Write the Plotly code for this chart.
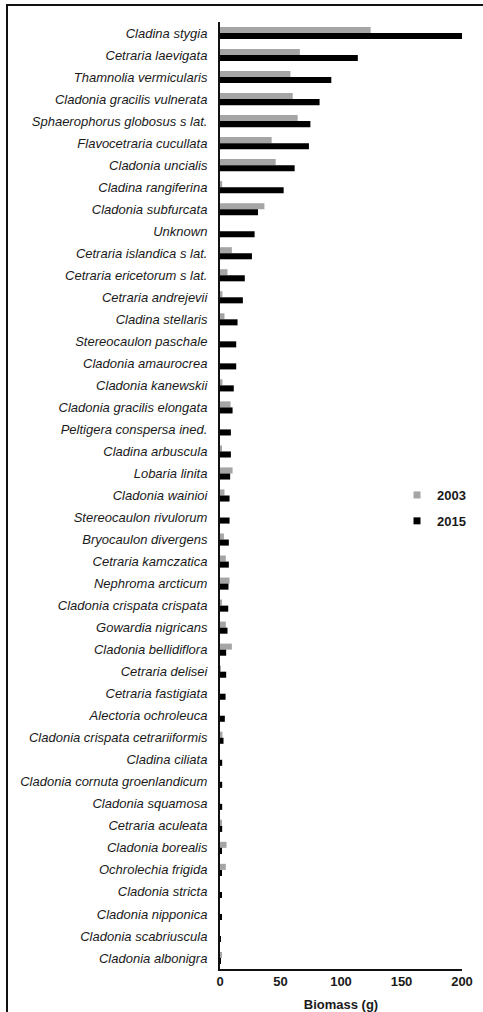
import plotly.graph_objects as go

species = [
    "Cladina stygia", "Cetraria laevigata", "Thamnolia vermicularis",
    "Cladonia gracilis vulnerata", "Sphaerophorus globosus s lat.",
    "Flavocetraria cucullata", "Cladonia uncialis", "Cladina rangiferina",
    "Cladonia subfurcata", "Unknown", "Cetraria islandica s lat.",
    "Cetraria ericetorum s lat.", "Cetraria andrejevii", "Cladina stellaris",
    "Stereocaulon paschale", "Cladonia amaurocrea", "Cladonia kanewskii",
    "Cladonia gracilis elongata", "Peltigera conspersa ined.",
    "Cladina arbuscula", "Lobaria linita", "Cladonia wainioi",
    "Stereocaulon rivulorum", "Bryocaulon divergens", "Cetraria kamczatica",
    "Nephroma arcticum", "Cladonia crispata crispata", "Gowardia nigricans",
    "Cladonia bellidiflora", "Cetraria delisei", "Cetraria fastigiata",
    "Alectoria ochroleuca", "Cladonia crispata cetrariiformis",
    "Cladina ciliata", "Cladonia cornuta groenlandicum", "Cladonia squamosa",
    "Cetraria aculeata", "Cladonia borealis", "Ochrolechia frigida",
    "Cladonia stricta", "Cladonia nipponica", "Cladonia scabriuscula",
    "Cladonia albonigra",
]

biomass_2003 = [
    124.5, 66.0, 58.2, 60.1, 64.2, 42.7, 46.0, 1.8, 36.7, 0.0, 9.8,
    6.2, 2.0, 3.7, 0.0, 0.0, 2.0, 8.7, 0.0, 1.5, 10.4, 3.7,
    0.0, 3.2, 4.8, 7.9, 1.0, 4.8, 9.8, 0.6, 0.0, 0.0, 2.0,
    0.0, 0.0, 0.0, 1.0, 5.4, 4.8, 0.0, 0.0, 0.0, 1.5,
]

biomass_2015 = [
    200.0, 113.9, 92.0, 82.3, 74.7, 73.5, 61.7, 52.6, 31.4, 28.6, 26.4,
    20.5, 18.9, 14.5, 13.4, 13.4, 11.4, 10.4, 9.0, 9.0, 8.4, 7.9,
    7.9, 7.3, 7.3, 7.0, 6.8, 6.2, 5.1, 5.1, 4.6, 4.0, 2.9,
    1.8, 1.8, 1.8, 1.8, 1.5, 1.2, 1.2, 1.0, 0.5, 0.3,
]

x_ticks = [0, 50, 100, 150, 200]
series_names = ["2003", "2015"]
series_colors = ["#A5A5A5", "#000000"]

FONT = "Arial, Liberation Sans, sans-serif"

fig = go.Figure()
for name, vals, col in zip(series_names, [biomass_2003, biomass_2015], series_colors):
    fig.add_trace(go.Bar(
        y=species, x=vals, orientation="h", name=name,
        marker=dict(color=col, line=dict(width=0)),
        showlegend=False,
    ))
# legend entries with small square markers
for i, (name, col) in enumerate(zip(series_names, series_colors)):
    fig.add_trace(go.Scatter(
        x=[None], y=[None], mode="markers", name=name,
        marker=dict(symbol="square", size=7, color=col),
        legendgroup=f"g{i}", showlegend=True,
    ))

# plot-area geometry in px
L, R, T, B = 220, 21, 22, 43
W, H = 483, 1012
pw, ph = W - L - R, H - T - B

def px_x(p):
    return (p - L) / pw

def px_y(q):
    return (H - B - q) / ph

fig.update_layout(
    width=W, height=H, autosize=False,
    margin=dict(l=L, r=R, t=T, b=B, pad=0, autoexpand=False),
    paper_bgcolor="white", plot_bgcolor="white",
    barmode="group", bargap=0.45, bargroupgap=0,
    font=dict(family=FONT, size=13, color="#1a1a1a"),
    legend=dict(
        x=px_x(397), y=px_y(508), xanchor="left", yanchor="middle",
        font=dict(family=FONT, size=13, color="#1a1a1a", weight="bold"),
        itemwidth=30, tracegroupgap=6, bgcolor="rgba(0,0,0,0)",
    ),
    xaxis=dict(
        range=[0, 200], tickvals=x_ticks, ticktext=[str(t) for t in x_ticks],
        showgrid=False, zeroline=False, showline=True, linecolor="#111",
        linewidth=1.5, ticks="", automargin=False,
        tickfont=dict(family=FONT, size=13, color="#1a1a1a", weight="bold"),
        title=dict(text="Biomass (g)", standoff=14,
                   font=dict(family=FONT, size=13, color="#1a1a1a", weight="bold")),
        fixedrange=True,
    ),
    yaxis=dict(
        type="category", categoryorder="array", categoryarray=species,
        autorange="reversed", showgrid=False, zeroline=False,
        showline=True, linecolor="#111", linewidth=2, ticks="",
        ticklabelstandoff=8, automargin=False,
        tickfont=dict(family=FONT, size=13, color="#1a1a1a", style="italic"),
        fixedrange=True,
    ),
    shapes=[dict(
        type="rect", xref="paper", yref="paper",
        x0=px_x(7), x1=px_x(495), y0=px_y(1030), y1=px_y(5),
        line=dict(color="#111", width=2), fillcolor="rgba(0,0,0,0)",
        layer="above",
    )],
)

fig.write_html(
    "out.html",
    config={"responsive": False, "displayModeBar": False},
    post_script="document.body.style.margin='0px';document.body.style.overflow='hidden';",
)
